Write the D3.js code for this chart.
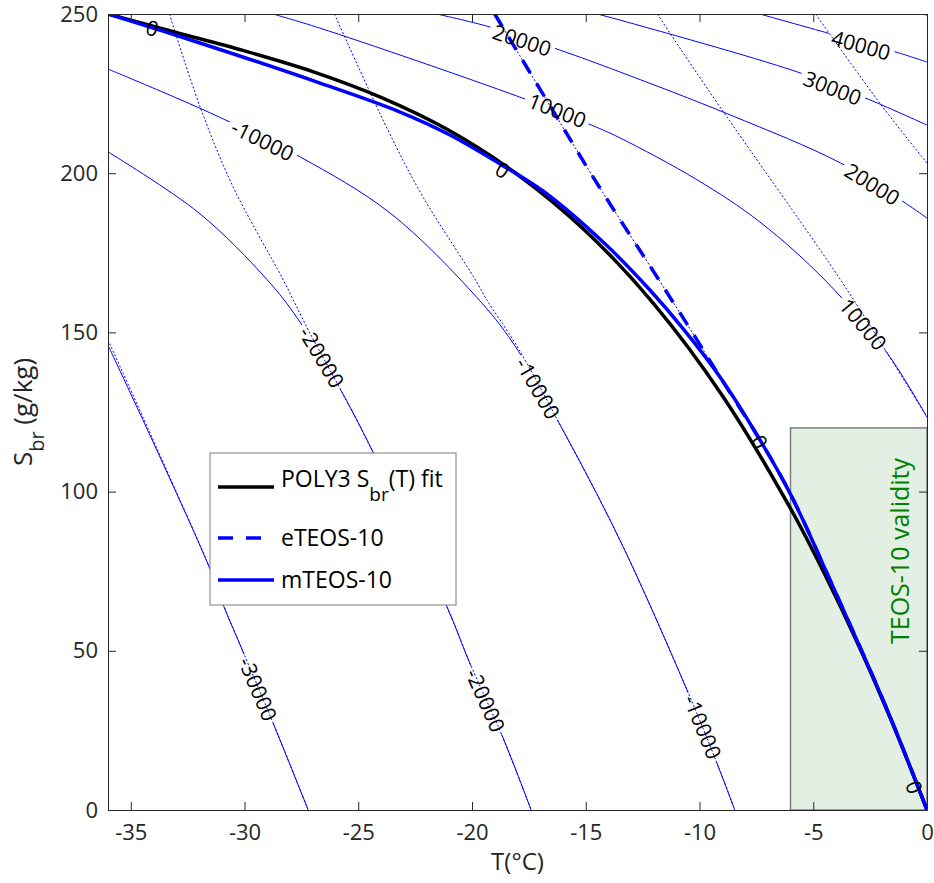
<!DOCTYPE html>
<html lang="en">
<head>
<meta charset="UTF-8">
<title>Brine salinity contours</title>
<script src="https://d3js.org/d3.v7.min.js"></script>
<style>
    body { margin: 0; background: #fff; font-family: "Open Sans", sans-serif; }
    svg { display: block; }
    .axis path, .axis line { stroke: #262626; }
    .axis text { fill: #262626; font-size: 22px; font-family: "Open Sans", sans-serif; }
    .clabel { font-size: 21px; fill: #000; font-family: "Open Sans", sans-serif; }
</style>
</head>
<body>
<div id="container"></div>
<script>
// tick values
const xTicks = [-35, -30, -25, -20, -15, -10, -5, 0];
const yTicks = [0, 50, 100, 150, 200, 250];

// mTEOS-10 field contours (thin solid), points are [T, S]
const mM30000 = [[-36,146.0],[-33.7,110.6],[-31.5,75.4],[-30.9,63.8],[-30.1,50.3],[-28.8,28.3],[-27.2,0]];
const mM20000 = [[-36,206.7],[-32.0,187.5],[-29.0,166.5],[-27.65,154.2],[-25.7,131.0],[-24.35,112.4],[-21.1,63.8],[-20.1,46.2],[-18.65,22.9],[-17.4,0]];
const mM10000 = [[-36,232.7],[-33.7,225.8],[-31.1,217.6],[-27.55,205.1],[-23.6,187.5],[-19.8,161.1],[-18.2,146.7],[-16.2,121.9],[-13.5,84.8],[-10.55,37.7],[-9.2,14.1],[-8.45,0]];
const mP10000 = [[-28.75,250],[-26.7,245.6],[-17.9,223.9],[-14.75,215.1],[-13.5,211.1],[-10.1,197.9],[-7.35,184.7],[-4.4,165.8],[-1.75,143.5],[0,123.4]];
const mP20000 = [[-21.55,250],[-19.2,245.9],[-16.15,238.7],[-13.5,231.8],[-8.65,218.3],[-3.8,203.2],[-0.95,190.6],[0,185.9]];
const mP30000 = [[-14.5,250],[-13.5,248.1],[-5.7,231.8],[-2.5,223.0],[0,215.1]];
const mP40000 = [[-7.35,250],[-4.5,244.3],[-1.25,237.8],[0,234.9]];
const mP50000 = [[-0.3,250],[0,249.7]];

// eTEOS-10 field contours (thin dotted)
const eM30000 = [[-36,147.6],[-33.7,111.2],[-31.5,75.4],[-30.9,63.8],[-30.1,50.3],[-28.8,28.3],[-27.2,0]];
const eM20000 = [[-33.3,250],[-31.95,220.8],[-30.5,195.7],[-28.3,166.5],[-27.2,150.8],[-25.7,131.0],[-24.35,112.4],[-21.1,63.8],[-20.1,46.2],[-18.65,22.9],[-17.4,0]];
const eM10000 = [[-26.05,250],[-23.7,213.6],[-22.15,192.5],[-19.85,166.5],[-19.35,160.2],[-18.0,145.4],[-16.2,121.9],[-13.5,84.8],[-10.55,37.7],[-9.2,14.1],[-8.45,0]];
const eP10000 = [[-11.85,250],[-11.3,244.0],[-9.1,220.8],[-3.8,166.5],[-1.75,143.5],[0,123.4]];
const eP20000 = [[-4.9,250],[-1.95,220.8],[0,203.2]];

// zero lines (thick)
const poly3Fit = [[-36,250],[-33,244.2],[-30,238.4],[-27,231.9],[-24,223.8],[-21,213.4],[-18,199.6],[-15,181.8],[-12,158.9],[-9,130.2],[-6,94.7],[-4.5,74.1],[-3,51.6],[-1.5,26.9],[0,0]];
const eteosZero = [[-19.0,250],[-16.8,223.9],[-14.6,197.9],[-11.75,166.1],[-10.3,149.8],[-9.1,136.0],[-7.34,116.2],[-5.98,98.9],[-4.26,72.2],[-1.71,30.8],[0,0]];
const mteosZero = [[-36,250],[-31.96,240.9],[-26.68,228.3],[-23.16,219.2],[-20.97,212.0],[-18.77,202.9],[-16.88,194.4],[-14.11,177.5],[-12.18,163.3],[-10.68,150.8],[-9.1,136.0],[-7.34,116.2],[-5.98,98.9],[-4.26,72.2],[-1.71,30.8],[0,0]];

// contour labels: level, T, S
const labelLevels = [-10000, -20000, -10000, 10000, 20000, 30000, 40000, 20000, 10000, -30000, -20000, -10000, 0, 0, 0, 0];
const labelT = [-29.2, -26.6, -17.1, -16.25, -17.8, -4.15, -2.9, -2.4, -2.8, -29.4, -19.4, -9.85, -34.05, -18.65, -7.35, -0.55];
const labelS = [210.4, 142.3, 132.5, 219.8, 241.8, 226.8, 240.3, 196.6, 152.6, 38.0, 34.5, 26.1, 245.6, 201.0, 115.6, 7.2];

// TEOS-10 validity region
const validityT = [-6, 0];
const validityS = [0, 120];

const solidContours = [
    {level: -30000, pts: mM30000}, {level: -20000, pts: mM20000}, {level: -10000, pts: mM10000},
    {level: 0, pts: mteosZero},
    {level: 10000, pts: mP10000}, {level: 20000, pts: mP20000}, {level: 30000, pts: mP30000},
    {level: 40000, pts: mP40000}, {level: 50000, pts: mP50000}
];
const dottedContours = [eM30000, eM20000, eM10000, eteosZero, eP10000, eP20000];

const width = 934, height = 883;
const mLeft = 108, mRight = 927, mTop = 14, mBottom = 810;

const svg = d3.select('#container').append('svg')
    .attr('width', width)
    .attr('height', height);

const x = d3.scaleLinear().domain([-36, 0]).range([mLeft, mRight]);
const y = d3.scaleLinear().domain([0, 250]).range([mBottom, mTop]);

const line = d3.line()
    .x(d => x(d[0]))
    .y(d => y(d[1]))
    .curve(d3.curveCatmullRom.alpha(0.5));

const defs = svg.append('defs');
defs.append('clipPath').attr('id', 'plotclip')
    .append('rect')
    .attr('x', mLeft).attr('y', mTop)
    .attr('width', mRight - mLeft).attr('height', mBottom - mTop);

// validity box
svg.append('rect')
    .attr('x', x(validityT[0]))
    .attr('y', y(validityS[1]))
    .attr('width', x(validityT[1]) - x(validityT[0]))
    .attr('height', y(validityS[0]) - y(validityS[1]))
    .attr('fill', '#e3efe3')
    .attr('stroke', '#7f7f7f')
    .attr('stroke-width', 1.5);

// labels: angle taken from the nearest segment of the contour
function labelInfo(i) {
    const lev = labelLevels[i];
    const pts = solidContours.find(c => c.level === lev).pts;
    const px = x(labelT[i]), py = y(labelS[i]);
    let best = null, bestD = Infinity;
    for (let k = 0; k < pts.length - 1; k++) {
        const ax = x(pts[k][0]), ay = y(pts[k][1]);
        const bx = x(pts[k + 1][0]), by = y(pts[k + 1][1]);
        const dx = bx - ax, dy = by - ay;
        let t = ((px - ax) * dx + (py - ay) * dy) / (dx * dx + dy * dy);
        t = Math.max(0, Math.min(1, t));
        const d = Math.hypot(ax + t * dx - px, ay + t * dy - py);
        if (d < bestD) { bestD = d; best = [dx, dy]; }
    }
    let ang = Math.atan2(best[1], best[0]) * 180 / Math.PI;
    if (ang > 90) ang -= 180;
    if (ang < -90) ang += 180;
    return {x: px, y: py, angle: ang, text: String(lev)};
}
const labels = labelLevels.map((d, i) => labelInfo(i));

// mask cutting the thin solid lines under labels
const mask = defs.append('mask').attr('id', 'labelmask')
    .attr('maskUnits', 'userSpaceOnUse')
    .attr('x', 0).attr('y', 0).attr('width', width).attr('height', height);
mask.append('rect').attr('width', width).attr('height', height).attr('fill', '#fff');

const plot = svg.append('g').attr('clip-path', 'url(#plotclip)');

const solidG = plot.append('g').attr('mask', 'url(#labelmask)');
solidG.selectAll('path')
    .data(solidContours.filter(c => c.level !== 0))
    .enter()
    .append('path')
    .attr('d', d => line(d.pts))
    .attr('fill', 'none')
    .attr('stroke', '#0000ff')
    .attr('stroke-width', 1);

plot.selectAll('.dotted')
    .data(dottedContours)
    .enter()
    .append('path')
    .attr('class', 'dotted')
    .attr('d', d => line(d))
    .attr('fill', 'none')
    .attr('stroke', '#0000ff')
    .attr('stroke-width', 1)
    .attr('stroke-dasharray', '2,2');

// thick zero lines
plot.append('path')
    .attr('d', line(poly3Fit))
    .attr('fill', 'none')
    .attr('stroke', '#000')
    .attr('stroke-width', 3.5);

plot.append('path')
    .attr('d', line(eteosZero))
    .attr('fill', 'none')
    .attr('stroke', '#0000ff')
    .attr('stroke-width', 3.5)
    .attr('stroke-dasharray', '15,12');

plot.append('path')
    .attr('d', line(mteosZero))
    .attr('fill', 'none')
    .attr('stroke', '#0000ff')
    .attr('stroke-width', 3.5);

// contour label text
const labelG = svg.append('g');
labelG.selectAll('text')
    .data(labels)
    .enter()
    .append('text')
    .attr('class', 'clabel')
    .attr('text-anchor', 'middle')
    .attr('dominant-baseline', 'central')
    .attr('transform', d => `translate(${d.x},${d.y}) rotate(${d.angle})`)
    .text(d => d.text)
    .each(function(d) { d.len = this.getComputedTextLength(); });

mask.selectAll('.cut')
    .data(labels)
    .enter()
    .append('rect')
    .attr('class', 'cut')
    .attr('x', d => -d.len / 2 - 4)
    .attr('y', -10)
    .attr('width', d => d.len + 8)
    .attr('height', 20)
    .attr('fill', '#000')
    .attr('transform', d => `translate(${d.x},${d.y}) rotate(${d.angle})`);

// validity text
svg.append('text')
    .attr('transform', `translate(909,551) rotate(-90)`)
    .attr('text-anchor', 'middle')
    .attr('fill', '#008000')
    .style('font-size', '25px')
    .text('TEOS-10 validity');

// legend
const legend = svg.append('g');
legend.append('rect')
    .attr('x', 210).attr('y', 453)
    .attr('width', 246).attr('height', 152)
    .attr('fill', '#fff')
    .attr('stroke', '#7f7f7f')
    .attr('stroke-width', 1);

const legendRows = [
    {y: 487, color: '#000', dash: null, shift: 0},
    {y: 538, color: '#0000ff', dash: '15,13', shift: 8},
    {y: 580, color: '#0000ff', dash: null, shift: 8}
];
legendRows.forEach(r => {
    legend.append('line')
        .attr('x1', 218).attr('x2', 274)
        .attr('y1', r.y).attr('y2', r.y)
        .attr('stroke', r.color)
        .attr('stroke-width', 3.5)
        .attr('stroke-dasharray', r.dash);
});

const t1 = legend.append('text')
    .attr('x', 281).attr('y', legendRows[0].y + legendRows[0].shift)
    .style('font-size', '23px');
t1.append('tspan').text('POLY3 S');
t1.append('tspan').attr('dy', 14).style('font-size', '19px').text('br');
t1.append('tspan').attr('dy', -14).text('(T) fit');

legend.append('text')
    .attr('x', 281).attr('y', legendRows[1].y + legendRows[1].shift)
    .style('font-size', '23px')
    .text('eTEOS-10');
legend.append('text')
    .attr('x', 281).attr('y', legendRows[2].y + legendRows[2].shift)
    .style('font-size', '23px')
    .text('mTEOS-10');

// axes
const fmt = d => String(d);
svg.append('g')
    .attr('class', 'axis')
    .attr('transform', `translate(0,${mBottom})`)
    .call(d3.axisBottom(x).tickValues(xTicks).tickFormat(fmt).tickSizeInner(-8).tickSizeOuter(0).tickPadding(14));
svg.append('g')
    .attr('class', 'axis')
    .attr('transform', `translate(0,${mTop})`)
    .call(d3.axisTop(x).tickValues(xTicks).tickFormat('').tickSizeInner(-8).tickSizeOuter(0));
svg.append('g')
    .attr('class', 'axis')
    .attr('transform', `translate(${mLeft},0)`)
    .call(d3.axisLeft(y).tickValues(yTicks).tickFormat(fmt).tickSizeInner(-8).tickSizeOuter(0).tickPadding(10));
svg.append('g')
    .attr('class', 'axis')
    .attr('transform', `translate(${mRight},0)`)
    .call(d3.axisRight(y).tickValues(yTicks).tickFormat('').tickSizeInner(-8).tickSizeOuter(0));

// axis titles
svg.append('text')
    .attr('x', (mLeft + mRight) / 2)
    .attr('y', 870)
    .attr('text-anchor', 'middle')
    .attr('fill', '#262626')
    .style('font-size', '24px')
    .text('T(°C)');

const yl = svg.append('text')
    .attr('transform', `translate(32,${(mTop + mBottom) / 2}) rotate(-90)`)
    .attr('text-anchor', 'middle')
    .attr('fill', '#262626')
    .style('font-size', '26px');
yl.append('tspan').text('S');
yl.append('tspan').attr('dy', 12).style('font-size', '20px').text('br');
yl.append('tspan').attr('dy', -12).text(' (g/kg)');
</script>
</body>
</html>
